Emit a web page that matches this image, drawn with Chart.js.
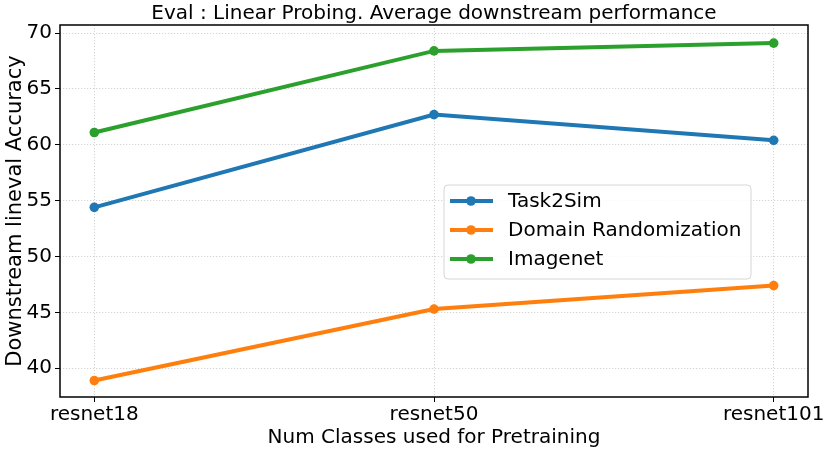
<!DOCTYPE html>
<html>
<head>
<meta charset="utf-8">
<script src="https://cdn.jsdelivr.net/npm/chart.js@4.4.0/dist/chart.umd.min.js"></script>
<style>
  html, body { margin: 0; padding: 0; background: #fff; }
  #wrap { width: 831px; height: 452px; }
</style>
</head>
<body>
<div id="wrap"><canvas id="myChart"></canvas></div>
<script>
(function(){
  'use strict';

  // values
  const models = ['resnet18', 'resnet50', 'resnet101'];
  const seriesNames = ['Task2Sim', 'Domain Randomization', 'Imagenet'];
  const task2sim = [54.4, 62.7, 60.4];
  const domainRand = [38.9, 45.3, 47.4];
  const imagenet = [61.1, 68.4, 69.1];
  const yTicks = [40, 45, 50, 55, 60, 65, 70];

  const colors = ['#1f77b4', '#ff7f0e', '#2ca02c'];
  const font = 'DejaVu Sans';

  function toPoints(vals){
    return vals.map((v, i) => ({x: i, y: v}));
  }

  const datasets = [task2sim, domainRand, imagenet].map((vals, i) => ({
    label: seriesNames[i],
    data: toPoints(vals),
    borderColor: colors[i],
    backgroundColor: colors[i],
    borderWidth: 4,
    pointRadius: 4.8,
    pointHoverRadius: 4.8,
    pointBorderWidth: 0,
    pointBackgroundColor: colors[i],
    tension: 0
  }));

  // frame round the plot area, like matplotlib spines
  const framePlugin = {
    id: 'frame',
    afterDatasetsDraw(chart){
      const {ctx, chartArea: a} = chart;
      ctx.save();
      ctx.strokeStyle = '#000';
      ctx.lineWidth = 1.5;
      ctx.strokeRect(a.left, a.top, a.right - a.left, a.bottom - a.top);
      ctx.restore();
    }
  };

  // legend box inside the plot
  const boxLegend = {
    id: 'boxLegend',
    afterDraw(chart){
      const {ctx, chartArea: a} = chart;
      const w = 307, h = 94;
      const x = a.right - 57 - w;
      const y = a.top + 160;
      ctx.save();
      ctx.beginPath();
      ctx.roundRect(x, y, w, h, 4);
      ctx.fillStyle = 'rgba(255,255,255,0.85)';
      ctx.fill();
      ctx.strokeStyle = '#d6d6d6';
      ctx.lineWidth = 1;
      ctx.stroke();
      ctx.font = '20px "' + font + '"';
      ctx.textBaseline = 'middle';
      chart.data.datasets.forEach((ds, i) => {
        const cy = y + 16 + i * 29;
        ctx.strokeStyle = ds.borderColor;
        ctx.lineWidth = 4;
        ctx.beginPath();
        ctx.moveTo(x + 6, cy);
        ctx.lineTo(x + 49, cy);
        ctx.stroke();
        ctx.fillStyle = ds.borderColor;
        ctx.beginPath();
        ctx.arc(x + 27, cy, 4.8, 0, Math.PI * 2);
        ctx.fill();
        ctx.fillStyle = '#000';
        ctx.fillText(ds.label, x + 64, cy + 1);
      });
      ctx.restore();
    }
  };

  const gridOpts = {
    color: '#cfcfcf',
    lineWidth: 0.9,
    tickColor: '#000',
    tickWidth: 1,
    tickLength: 5,
    tickBorderDash: []
  };

  const ctx = document.getElementById('myChart').getContext('2d');
  new Chart(ctx, {
    type: 'line',
    data: {datasets: datasets},
    plugins: [framePlugin, boxLegend],
    options: {
      responsive: true,
      maintainAspectRatio: false,
      animation: false,
      events: [],
      layout: {padding: {right: 23, left: 0, bottom: 0, top: 0}},
      scales: {
        x: {
          type: 'linear',
          min: -0.101,
          max: 2.101,
          afterBuildTicks: s => { s.ticks = models.map((m, i) => ({value: i})); },
          afterFit: s => { s.height = 55; },
          ticks: {
            callback: v => models[v],
            color: '#000',
            font: {family: font, size: 20},
            padding: 1,
            maxRotation: 0
          },
          grid: gridOpts,
          border: {display: false, dash: [1.2, 1.8]},
          title: {
            display: true,
            text: 'Num Classes used for Pretraining',
            color: '#000',
            font: {family: font, size: 20},
            padding: {top: 0, bottom: 2}
          }
        },
        y: {
          type: 'linear',
          min: 37.43,
          max: 70.72,
          afterBuildTicks: s => { s.ticks = yTicks.map(v => ({value: v})); },
          afterFit: s => { s.width = 60; },
          ticks: {
            color: '#000',
            font: {family: font, size: 20},
            padding: 3
          },
          grid: gridOpts,
          border: {display: false, dash: [1.2, 1.8]},
          title: {
            display: true,
            text: 'Downstream lineval Accuracy',
            color: '#000',
            font: {family: font, size: 21},
            padding: {top: 3, bottom: 0}
          }
        }
      },
      plugins: {
        legend: {display: false},
        tooltip: {enabled: false},
        title: {
          display: true,
          fullSize: false,
          text: 'Eval : Linear Probing. Average downstream performance',
          color: '#000',
          font: {family: font, size: 20, weight: 'normal'},
          padding: {top: 2, bottom: -1}
        }
      }
    }
  });
})();
</script>
</body>
</html>
